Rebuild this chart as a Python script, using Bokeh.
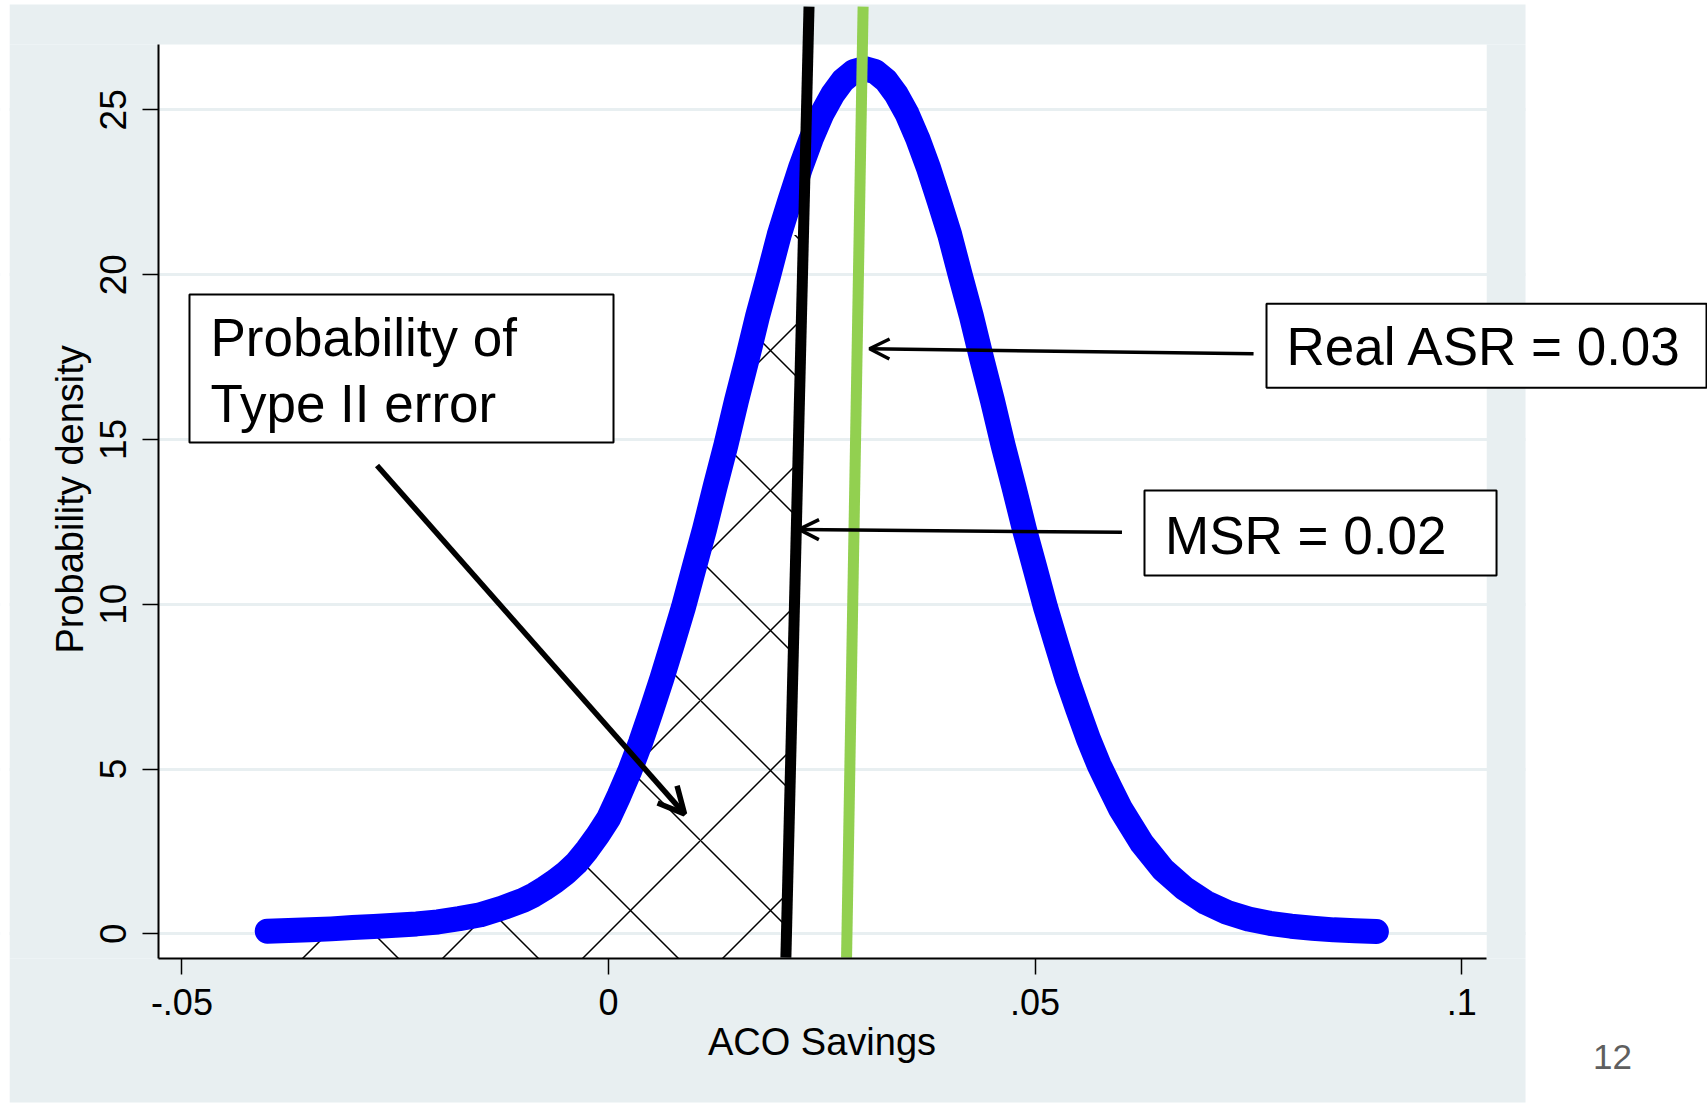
import numpy as np
from bokeh.plotting import figure
from bokeh.models import (Range1d, FixedTicker, Label, Arrow, OpenHead,
                          BoxAnnotation)
from bokeh.embed import file_html
from bokeh.resources import INLINE

# ---------------- data ----------------
savings = [-0.0400, -0.0375, -0.0350, -0.0325, -0.0300, -0.0275, -0.0250, -0.0225,
           -0.0200, -0.0175, -0.0150, -0.0125, -0.0100, -0.00875, -0.0075, -0.00625,
           -0.0050, -0.00375, -0.0025, -0.00125, 0.0000, 0.00125, 0.0025, 0.00375,
           0.0050, 0.00625, 0.0075, 0.00875, 0.0100, 0.01125, 0.0125, 0.01375,
           0.0150, 0.01625, 0.0175, 0.01875, 0.0200, 0.02125, 0.0225, 0.02375,
           0.0250, 0.02625, 0.0275, 0.02875, 0.0300, 0.03125, 0.0325, 0.03375,
           0.0350, 0.03625, 0.0375, 0.03875, 0.0400, 0.04125, 0.0425, 0.04375,
           0.0450, 0.04625, 0.0475, 0.04875, 0.0500, 0.05125, 0.0525, 0.05375,
           0.0550, 0.05625, 0.0575, 0.05875, 0.0600, 0.0625, 0.0650, 0.0675,
           0.0700, 0.0725, 0.0750, 0.0775, 0.0800, 0.0825, 0.0850, 0.0875, 0.0900]
density = [0.08, 0.10, 0.12, 0.15, 0.19, 0.22, 0.26, 0.30,
           0.36, 0.46, 0.58, 0.78, 1.02, 1.18, 1.38, 1.60,
           1.85, 2.15, 2.55, 3.00, 3.50, 4.20, 4.95, 5.80,
           6.75, 7.74, 8.80, 9.88, 11.08, 12.27, 13.57, 14.82,
           16.18, 17.44, 18.77, 19.96, 21.20, 22.24, 23.24, 24.12,
           24.87, 25.46, 25.90, 26.16, 26.25, 26.16, 25.90, 25.46,
           24.87, 24.12, 23.24, 22.24, 21.20, 19.96, 18.77, 17.44,
           16.18, 14.82, 13.57, 12.27, 11.08, 9.88, 8.80, 7.74,
           6.81, 5.91, 5.12, 4.45, 3.80, 2.75, 1.95, 1.38,
           0.95, 0.65, 0.45, 0.32, 0.23, 0.17, 0.12, 0.09, 0.07]

x_ticks = [-0.05, 0.0, 0.05, 0.1]
x_tick_labels = ["-.05", "0", ".05", ".1"]
y_ticks = [0, 5, 10, 15, 20, 25]
y_tick_labels = ["0", "5", "10", "15", "20", "25"]
x_title = "ACO Savings"
y_title = "Probability density"

# hand-drawn reference lines (slightly tilted in the original)
msr_line_x = [0.02079, 0.02350]
asr_line_x = [0.02790, 0.02984]
ref_line_y = [-0.72, 28.13]

box_type2_text = ["Probability of", "Type II error"]
box_asr_text = "Real ASR = 0.03"
box_msr_text = "MSR = 0.02"
page_number = "12"

# ---------------- layout constants (data units of the canvas) ----------------
CX0, CX1 = -0.071261, 0.128806     # canvas left / right
CY0, CY1 = -5.209, 28.317          # canvas bottom / top
PX0, PX1 = -0.05274, 0.10293       # white plot area
PY0, PY1 = -0.749, 26.98
GX0, GX1 = -0.07021, 0.1075        # grey graph background
GY0, GY1 = -5.118, 28.195
GREY = "#e8eff1"
FONT = "Liberation Sans"

p = figure(width=1707, height=1105, x_range=Range1d(CX0, CX1), y_range=Range1d(CY0, CY1),
           output_backend="svg", toolbar_location=None, title=None, min_border=0)
p.background_fill_color = "white"
p.border_fill_color = "white"
p.outline_line_color = None

# axes, drawn at the edges of the plot area
p.xaxis.fixed_location = PY0
p.yaxis.fixed_location = PX0
p.xaxis.ticker = FixedTicker(ticks=x_ticks)
p.xaxis.major_label_overrides = dict(zip(x_ticks, x_tick_labels))
p.yaxis.ticker = FixedTicker(ticks=y_ticks)
p.yaxis.major_label_overrides = dict(zip(y_ticks, y_tick_labels))
p.xaxis.bounds = (PX0, PX1)
p.yaxis.bounds = (PY0, PY1)
for ax in (p.xaxis, p.yaxis):
    ax.axis_line_color = "black"
    ax.axis_line_width = 2
    ax.major_tick_line_color = "black"
    ax.major_tick_line_width = 1.5
    ax.major_tick_out = 16
    ax.major_tick_in = 0
    ax.minor_tick_line_color = None
    ax.major_label_text_font = FONT
    ax.major_label_text_color = "black"
p.xaxis.major_label_text_font_size = "36px"
p.yaxis.major_label_text_font_size = "37px"
p.xaxis.major_label_standoff = 14
p.yaxis.major_label_orientation = "vertical"
p.yaxis.major_label_standoff = 17

p.xgrid.visible = False
p.ygrid.ticker = FixedTicker(ticks=y_ticks)
p.ygrid.grid_line_color = GREY
p.ygrid.grid_line_width = 3

# grey frame of the graph image, white page around it
for l, r, b, t, c in [(GX0, GX1, PY1, GY1, GREY), (GX0, GX1, GY0, PY0, GREY),
                      (GX0, PX0, PY0, PY1, GREY), (PX1, GX1, PY0, PY1, GREY),
                      (GX1, CX1 + 0.01, CY0 - 1, CY1 + 1, "white"),
                      (CX0 - 0.01, GX0, CY0 - 1, CY1 + 1, "white")]:
    p.quad(left=[l], right=[r], bottom=[b], top=[t], fill_color=c, line_color=None)

# hatched area (probability of type II error)
sv = np.array(savings)
dn = np.array(density)
mask = (sv >= -0.0375) & (sv <= 0.0200)
hx = list(sv[mask])
hy = list(dn[mask])
top_y = hy[-1]
line_at = lambda yy: float(np.interp(yy, ref_line_y, msr_line_x))
hx += [line_at(top_y), line_at(PY0), hx[0]]
hy += [top_y, PY0, PY0]
p.patch(hx, hy, fill_color=None, line_color=None, hatch_pattern="diagonal_cross",
        hatch_color="black", hatch_weight=1.5, hatch_scale=140, hatch_alpha=1.0)

# density curve
p.line(savings, density, line_width=25, line_color="#0000ff",
       line_cap="round", line_join="round")

# MSR and real ASR lines
p.segment(x0=[msr_line_x[0]], y0=[ref_line_y[0]], x1=[msr_line_x[1]], y1=[ref_line_y[1]],
          line_width=11, line_color="black")
p.segment(x0=[asr_line_x[0]], y0=[ref_line_y[0]], x1=[asr_line_x[1]], y1=[ref_line_y[1]],
          line_width=11, line_color="#92d050")

# axis titles
p.add_layout(Label(x=0.02502, y=-3.28, text=x_title, text_font=FONT,
                   text_font_size="38px", text_color="black", text_align="center",
                   text_baseline="middle"))
p.add_layout(Label(x=-0.06306, y=13.18, text=y_title, text_font=FONT, angle=np.pi / 2,
                   text_font_size="38px", text_color="black", text_align="center",
                   text_baseline="middle"))

# text boxes
for l, r, b, t in [(-0.04911, 0.000586, 14.91, 19.40),
                   (0.07712, 0.12869, 16.57, 19.12),
                   (0.06282, 0.10408, 10.87, 13.45)]:
    p.add_layout(BoxAnnotation(left=l, right=r, bottom=b, top=t, fill_color="white",
                               fill_alpha=1.0, line_color="black", line_alpha=1.0,
                               line_width=2))

for x, y, t in [(-0.04665, 18.08, box_type2_text[0]), (-0.04665, 16.09, box_type2_text[1]),
                (0.07946, 17.82, box_asr_text), (0.06523, 12.09, box_msr_text)]:
    p.add_layout(Label(x=x, y=y, text=t, text_font=FONT, text_font_size="53px",
                       text_color="black", text_baseline="middle"))

# arrows
p.add_layout(Arrow(end=OpenHead(size=20, line_width=3.5, line_color="black"),
                   x_start=0.07560, y_start=17.60, x_end=0.03059, y_end=17.75,
                   line_width=3.5, line_color="black"))
p.add_layout(Arrow(end=OpenHead(size=20, line_width=3.5, line_color="black"),
                   x_start=0.06018, y_start=12.18, x_end=0.02232, y_end=12.27,
                   line_width=3.5, line_color="black"))
p.add_layout(Arrow(end=OpenHead(size=26, line_width=5.5, line_color="black"),
                   x_start=-0.02713, y_start=14.21, x_end=0.00891, y_end=3.64,
                   line_width=5.5, line_color="black"))

# slide number
p.add_layout(Label(x=0.11768, y=-3.738, text=page_number, text_font=FONT,
                   text_font_size="35px", text_color="#5f5f5f", text_align="center",
                   text_baseline="middle"))

open("out.html", "w").write(file_html(p, INLINE))
